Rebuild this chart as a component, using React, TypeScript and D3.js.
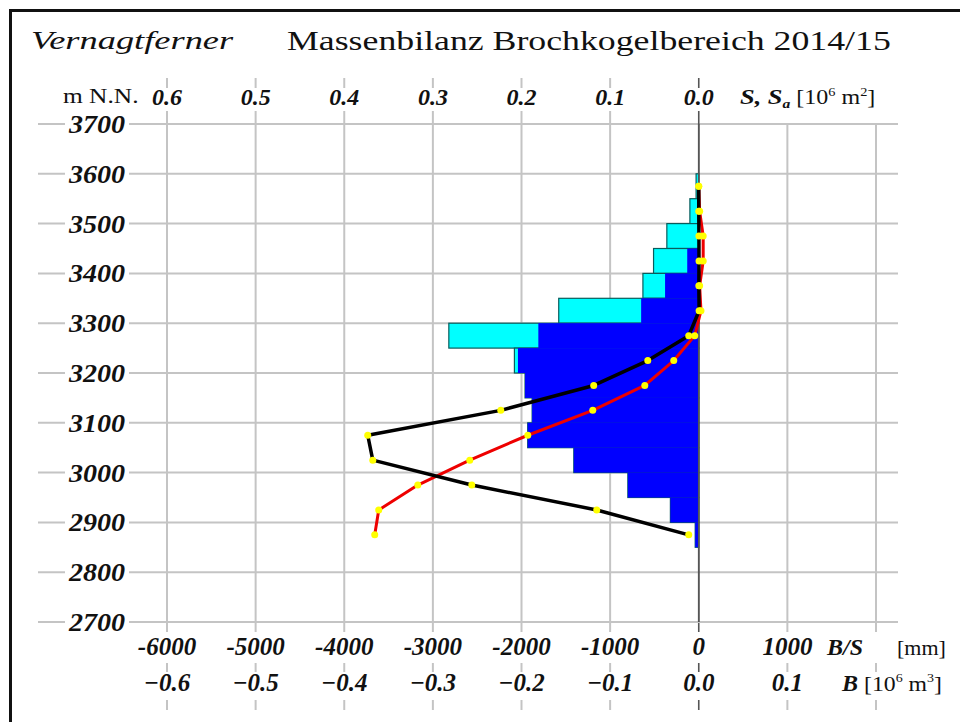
import * as d3 from 'd3'

// Elevation bands (lower bound, 50 m wide)
const BAND_LOW = [3550, 3500, 3450, 3400, 3350, 3300, 3250, 3200, 3150, 3100, 3050, 3000, 2950, 2900, 2850]
// S: total area per band [10^6 m2]
const AREA_S = [0.003, 0.010, 0.036, 0.051, 0.063, 0.158, 0.282, 0.208, 0.196, 0.188, 0.193, 0.141, 0.080, 0.032, 0.004]
// Sa: ablation area per band [10^6 m2]
const AREA_SA = [0, 0, 0, 0.013, 0.038, 0.065, 0.181, 0.204, 0.196, 0.188, 0.193, 0.141, 0.080, 0.032, 0.004]
// band midpoints
const BAND_MID = [3575, 3525, 3475, 3425, 3375, 3325, 3275, 3225, 3175, 3125, 3075, 3025, 2975, 2925, 2875]
// B/S specific balance [mm]
const SPEC_BAL = [0, 10, 50, 50, 10, 25, -45, -282, -609, -1196, -1929, -2584, -3170, -3611, -3656]
// B volume balance [10^6 m3]
const VOL_BAL = [0, 0, 0.0002, 0.0003, 0.0001, 0.0004, -0.0113, -0.0575, -0.1185, -0.2234, -0.3735, -0.3678, -0.2561, -0.1151, -0.0113]

const ELEV_TICKS = [3700, 3600, 3500, 3400, 3300, 3200, 3100, 3000, 2900, 2800, 2700]
const MM_TICKS = [-6000, -5000, -4000, -3000, -2000, -1000, 0, 1000]
const S_TICKS = [0.6, 0.5, 0.4, 0.3, 0.2, 0.1, 0.0]
const B_TICKS = [-0.6, -0.5, -0.4, -0.3, -0.2, -0.1, 0.0, 0.1]

const SERIF = '"Liberation Serif", "Times New Roman", serif'
const GRID = '#c4c4c4'

const x = d3.scaleLinear().domain([-6000, 2000]).range([167, 876])
const y = d3.scaleLinear().domain([2700, 3700]).range([622, 124])

function T({ x, y, sx = 1, anchor = 'start', size, weight = 'normal', italic = false, children }: any) {
  return (
    <text
      transform={`translate(${x},${y}) scale(${sx},1)`}
      textAnchor={anchor}
      fontFamily={SERIF}
      fontSize={size}
      fontWeight={weight}
      fontStyle={italic ? 'italic' : 'normal'}
      fill="#111"
    >
      {children}
    </text>
  )
}

export default function App() {
  const lineSpec = d3.line<number>().x((d) => x(d)).y((_, i) => y(BAND_MID[i]))
  const lineVol = d3.line<number>().x((d) => x(d * 10000)).y((_, i) => y(BAND_MID[i]))
  const fmt = d3.format('.1f')

  return (
    <svg width={960} height={722} style={{ position: 'absolute', left: 0, top: 0, background: '#fff' }}>
      <rect width={960} height={722} fill="#fff" />
      {/* frame */}
      <line x1={10.5} y1={10} x2={10.5} y2={722} stroke="#111" strokeWidth={3} />
      <line x1={9} y1={10.5} x2={960} y2={10.5} stroke="#111" strokeWidth={3} />

      {/* horizontal grid */}
      {ELEV_TICKS.map((e) => (
        <line key={e} x1={38} x2={898} y1={y(e)} y2={y(e)} stroke={GRID} strokeWidth={2} />
      ))}
      {/* vertical grid */}
      {[...MM_TICKS, 2000].map((m) => (
        <g key={m} stroke={m === 0 ? '#555' : GRID} strokeWidth={m === 0 ? 1.6 : 2}>
          <line x1={x(m)} x2={x(m)} y1={y(3700)} y2={y(2700)} />
          <line x1={x(m)} x2={x(m)} y1={623} y2={632} />
          <line x1={x(m)} x2={x(m)} y1={663} y2={672} />
          <line x1={x(m)} x2={x(m)} y1={700} y2={710} />
        </g>
      ))}
      {S_TICKS.map((s) => (
        <g key={s} stroke={s === 0 ? '#555' : GRID} strokeWidth={s === 0 ? 1.6 : 2}>
          <line x1={x(-s * 10000)} x2={x(-s * 10000)} y1={78} y2={88} />
          <line x1={x(-s * 10000)} x2={x(-s * 10000)} y1={111} y2={124} />
        </g>
      ))}

      {/* S bars (cyan) */}
      {BAND_LOW.map((b, i) => (
        <rect
          key={'s' + b}
          x={x(-AREA_S[i] * 10000)}
          y={y(b + 50)}
          width={x(0) - x(-AREA_S[i] * 10000)}
          height={y(b) - y(b + 50)}
          fill="#00ffff"
          stroke="#0a5c5c"
          strokeWidth={1.2}
        />
      ))}
      {/* Sa bars (blue) */}
      {BAND_LOW.map((b, i) =>
        AREA_SA[i] > 0 ? (
          <rect
            key={'a' + b}
            x={x(-AREA_SA[i] * 10000)}
            y={y(b + 50)}
            width={x(0) - x(-AREA_SA[i] * 10000)}
            height={y(b) - y(b + 50)}
            fill="#0000ff"
          />
        ) : null
      )}
      <line x1={x(0)} x2={x(0)} y1={y(3700)} y2={y(2700)} stroke="#555" strokeWidth={1.6} />

      {/* B/S (red) */}
      <path d={lineSpec(SPEC_BAL) || ''} fill="none" stroke="#ee0000" strokeWidth={3} strokeLinejoin="round" />
      {/* B (black) */}
      <path d={lineVol(VOL_BAL) || ''} fill="none" stroke="#000" strokeWidth={3.5} strokeLinejoin="round" />
      {SPEC_BAL.map((v, i) => (
        <circle key={'r' + i} cx={x(v)} cy={y(BAND_MID[i])} r={3.5} fill="#ffff00" />
      ))}
      {VOL_BAL.map((v, i) => (
        <circle key={'k' + i} cx={x(v * 10000)} cy={y(BAND_MID[i])} r={3.5} fill="#ffff00" />
      ))}

      {/* elevation labels */}
      {ELEV_TICKS.map((e) => (
        <g key={'l' + e}>
          <rect x={65} y={y(e) - 11} width={64} height={22} fill="#fff" />
          <T x={97} y={y(e) + 9} anchor="middle" size={26} weight="bold" italic sx={1.08}>
            {e}
          </T>
        </g>
      ))}

      {/* titles */}
      <T x={31} y={49} size={26} italic sx={1.4}>Vernagtferner</T>
      <T x={287} y={50} size={26.5} sx={1.35}>Massenbilanz Brochkogelbereich 2014/15</T>
      <T x={63} y={103} size={20} sx={1.27}>m N.N.</T>

      {/* top axis */}
      {S_TICKS.map((s) => (
        <T key={'st' + s} x={x(-s * 10000)} y={105} anchor="middle" size={24} weight="bold" italic>
          {fmt(s)}
        </T>
      ))}
      <g transform="translate(740,104) scale(1.2,1)">
        <text fontFamily={SERIF} fill="#111">
          <tspan fontSize={22} fontWeight="bold" fontStyle="italic">S, S</tspan>
          <tspan fontSize={13} fontWeight="bold" fontStyle="italic" dy={4}>a</tspan>
          <tspan fontSize={20} dy={-4}> [10</tspan>
          <tspan fontSize={12} dy={-8}>6</tspan>
          <tspan fontSize={20} dy={8}> m</tspan>
          <tspan fontSize={12} dy={-8}>2</tspan>
          <tspan fontSize={20} dy={8}>]</tspan>
        </text>
      </g>

      {/* bottom axes */}
      {MM_TICKS.map((m) => (
        <T key={'mm' + m} x={x(m)} y={655} anchor="middle" size={25} weight="bold" italic>
          {m}
        </T>
      ))}
      {B_TICKS.map((b) => (
        <T key={'b' + b} x={x(b * 10000)} y={691} anchor="middle" size={25} weight="bold" italic>
          {fmt(b)}
        </T>
      ))}
      <T x={827} y={655} size={24} weight="bold" italic>B/S</T>
      <T x={897} y={655} size={22}>[mm]</T>
      <T x={842} y={691} size={24} weight="bold" italic>B</T>
      <g transform="translate(864,691) scale(1.08,1)">
        <text fontFamily={SERIF} fill="#111">
          <tspan fontSize={22}>[10</tspan>
          <tspan fontSize={13} dy={-9}>6</tspan>
          <tspan fontSize={22} dy={9}> m</tspan>
          <tspan fontSize={13} dy={-9}>3</tspan>
          <tspan fontSize={22} dy={9}>]</tspan>
        </text>
      </g>
    </svg>
  )
}
